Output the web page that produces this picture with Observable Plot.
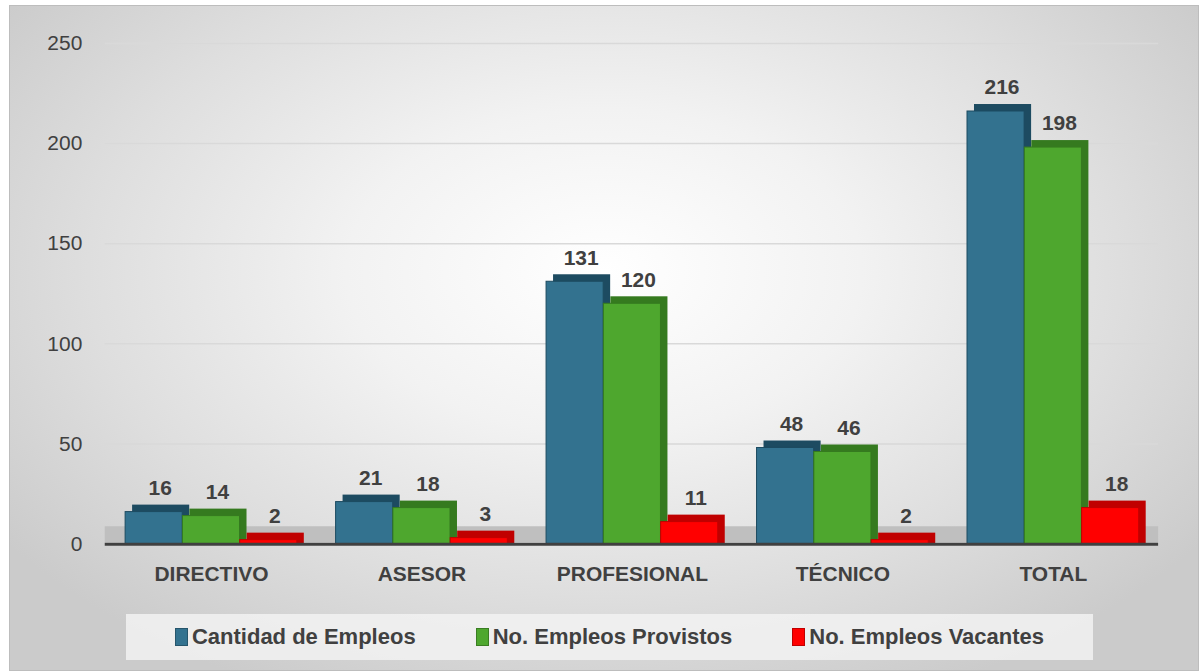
<!DOCTYPE html>
<html><head><meta charset="utf-8">
<script src="https://cdn.jsdelivr.net/npm/d3@7"></script>
<script src="https://cdn.jsdelivr.net/npm/@observablehq/plot@0.6"></script>
<style>
html,body{margin:0;padding:0;}
body{width:1201px;height:671px;overflow:hidden;font-family:"Liberation Sans",Arial,sans-serif;}
#wrap{position:absolute;left:9px;top:5px;width:1188px;height:664px;border:1px solid #bdbdbd;
background:radial-gradient(ellipse 62% 70% at 50% 40%, #ffffff 0%, #f2f2f2 35%, #dedede 70%, #cbcbcb 100%);}
#chart{position:absolute;left:-10px;top:-5px;}
#legend{position:absolute;left:116px;top:608px;width:967px;height:46px;background:rgba(242,242,242,0.85);
display:flex;align-items:center;justify-content:center;gap:60px;font-family:"Liberation Sans",Arial,sans-serif;font-weight:bold;font-size:22px;color:#404040;}
.item{display:flex;align-items:center;gap:4px;}
.sw{width:11px;height:16px;display:inline-block;border:1px solid rgba(0,0,0,0.25);}
</style></head>
<body><div id="wrap"><div id="chart"></div><div id="legend"></div></div>
<script>
const categories = ["DIRECTIVO", "ASESOR", "PROFESIONAL", "TÉCNICO", "TOTAL"];
const seriesNames = ["Cantidad de Empleos", "No. Empleos Provistos", "No. Empleos Vacantes"];
const cantidad = [16, 21, 131, 48, 216];
const provistos = [14, 18, 120, 46, 198];
const vacantes = [2, 3, 11, 2, 18];
const yTicks = [0, 50, 100, 150, 200, 250];
const frontColors = ["#33728f", "#4ea72e", "#ff0000"];
const topColors = ["#1d4b61", "#357a1f", "#c00000"];

const values = [cantidad, provistos, vacantes];

const W = 1201, ML = 105, MR = 40;
const band = (W - ML - MR) / categories.length;
const barW = band * 0.272;
const groupPad = (band - 3 * barW) / 2;

const marks = [
  Plot.ruleY(yTicks.filter(d => d > 0), {stroke: "#d9d9d9", strokeWidth: 1.5}),
  Plot.ruleY([0], {stroke: "#bfbfbf", strokeWidth: 16, dy: -10})
];
values.forEach((vals, j) => {
  const rows = categories.map((c, i) => ({cat: c, value: vals[i]}));
  const insetLeft = groupPad + barW * j;
  const insetRight = band - insetLeft - barW;
  marks.push(Plot.barY(rows, {x: "cat", y: "value", fill: topColors[j], insetLeft, insetRight, insetBottom: -7, dx: 7, dy: -7}));
  marks.push(Plot.barY(rows, {x: "cat", y: "value", fill: frontColors[j], stroke: topColors[j], strokeWidth: 1, insetLeft, insetRight}));
});
marks.push(Plot.ruleY([0], {stroke: "#404040", strokeWidth: 3}));
values.forEach((vals, j) => {
  const rows = categories.map((c, i) => ({cat: c, value: vals[i]}));
  const offset = -band / 2 + groupPad + barW * (j + 0.5) + 6;
  marks.push(Plot.text(rows, {x: "cat", y: "value", text: "value", dx: offset, dy: -24, fontWeight: "bold", fontSize: 21, fill: "#404040"}));
});
marks.push(Plot.axisY({ticks: yTicks, tickSize: 0, tickPadding: 23, fontSize: 21, fill: "#404040"}));
marks.push(Plot.axisX({tickSize: 0, tickPadding: 22, fontSize: 21, fontWeight: "bold", fill: "#404040", label: null}));

const plot = Plot.plot({
  width: W, height: 600,
  marginLeft: ML, marginRight: MR, marginTop: 42, marginBottom: 56,
  style: {background: "transparent", fontFamily: "'Liberation Sans', Arial, sans-serif", color: "#404040", overflow: "visible"},
  x: {domain: categories, padding: 0, label: null, axis: null},
  y: {domain: [0, 250], ticks: yTicks, label: null, axis: null},
  marks
});
document.getElementById("chart").appendChild(plot);

const legend = document.getElementById("legend");
seriesNames.forEach((s, j) => {
  const it = document.createElement("div"); it.className = "item";
  const sw = document.createElement("span"); sw.className = "sw"; sw.style.background = frontColors[j];
  const t = document.createElement("span"); t.textContent = s;
  it.appendChild(sw); it.appendChild(t); legend.appendChild(it);
});
</script></body></html>
